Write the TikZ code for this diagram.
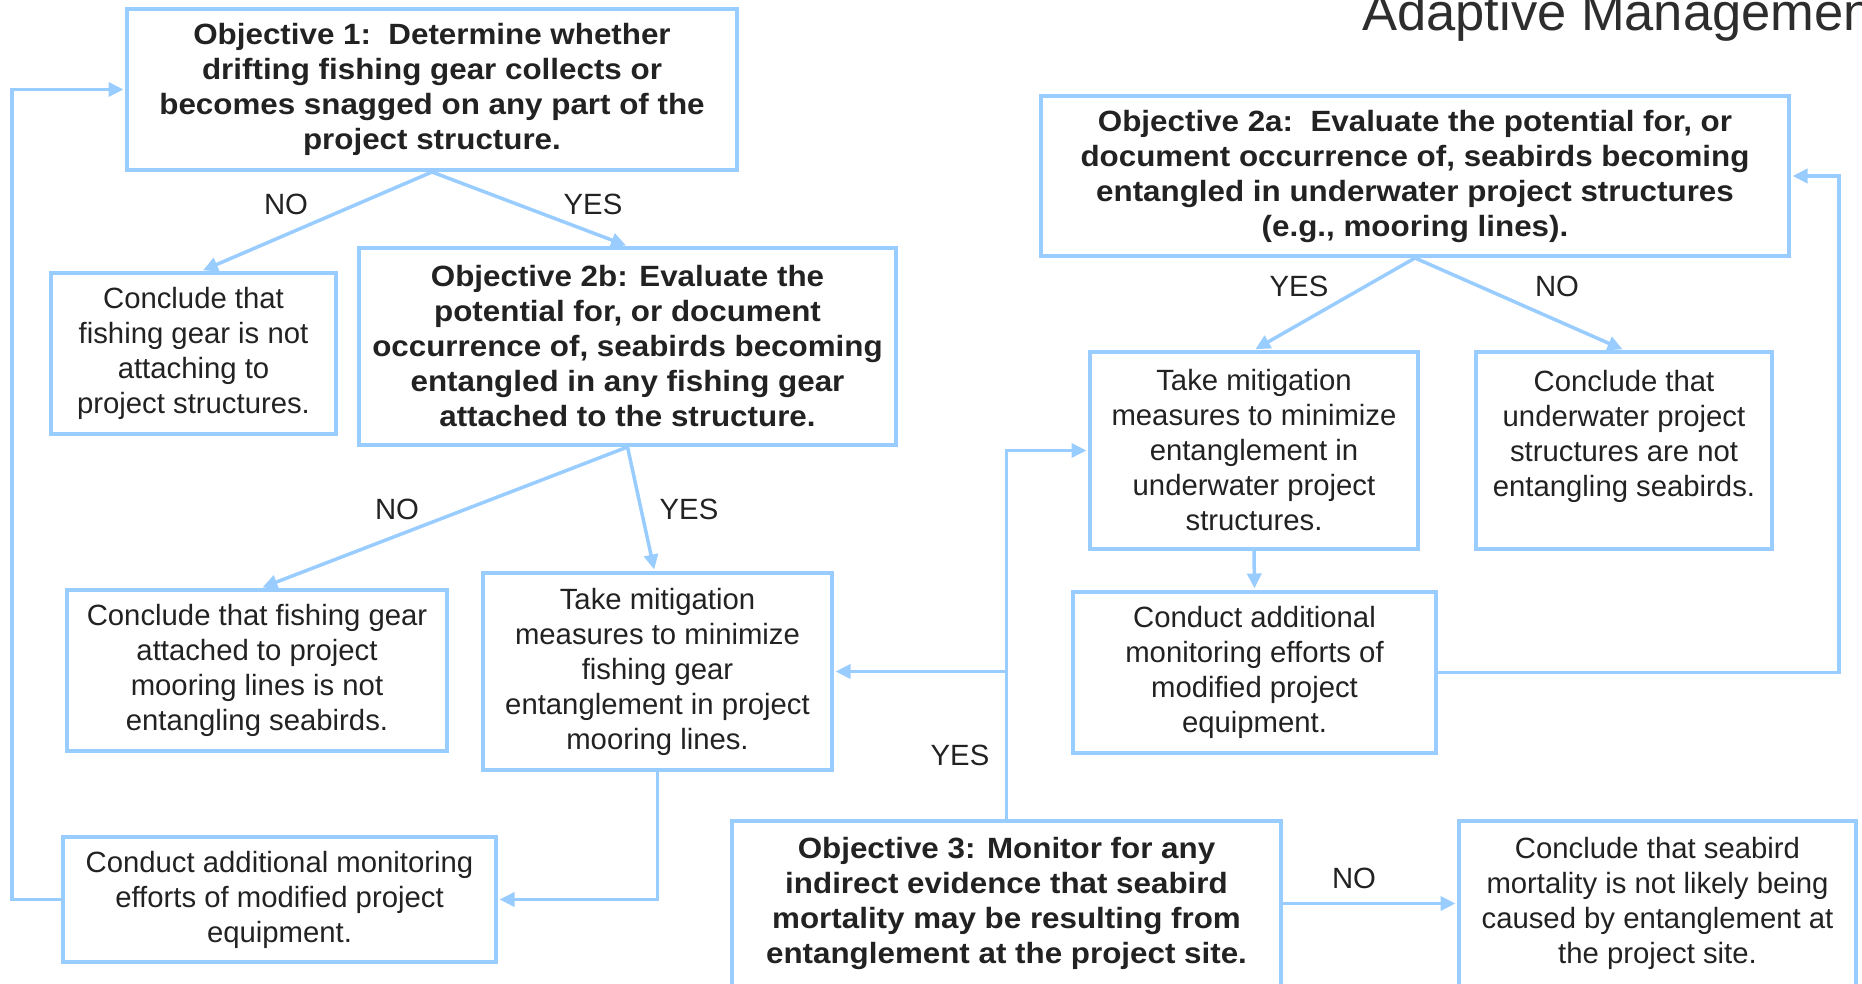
\documentclass[tikz,border=0pt]{standalone}
\usepackage{fontspec}
\setmainfont{Liberation Sans}[BoldFeatures={FakeStretch=1.07}]
\usetikzlibrary{arrows.meta,calc}
\definecolor{flowblue}{RGB}{153,204,255}
\definecolor{ink}{RGB}{34,34,34}
\begin{document}
\begin{tikzpicture}[x=1pt,y=-1pt,
  box/.style={draw=flowblue, line width=4pt, fill=white, inner sep=0pt,
    align=center, text=ink, font=\fontsize{29.3}{35}\selectfont},
  boldbox/.style={box, font=\fontsize{29.3}{35}\selectfont\bfseries},
  conn/.style={draw=flowblue, line width=3.5pt},
  arr/.style={conn, -{Triangle[length=15pt,width=14pt]}, shorten >=1.5pt},
  lbl/.style={text=ink, font=\fontsize{29.3}{35}\selectfont, inner sep=0pt}]
\useasboundingbox (0,0) rectangle (1862,984);

% heading, running off the page edge
\node[anchor=base west, inner sep=0pt, text=ink!95,
  font=\fontsize{52.5}{63}\selectfont] (title) at (1362,31) {Adaptive Management};

% left branch: drifting gear
\node[boldbox, minimum width=610pt, minimum height=161pt] (obj1) at (432,89.5)
  {Objective 1:\ \ Determine whether\\drifting fishing gear collects or\\becomes snagged on any part of the\\project structure.};
\node[box, minimum width=285pt, minimum height=161pt] (concl1) at (193.5,353.5)
  {Conclude that\\fishing gear is not\\attaching to\\project structures.};
\node[boldbox, minimum width=537pt, minimum height=197pt] (obj2b) at (627.5,346.5)
  {Objective 2b: Evaluate the\\potential for, or document\\occurrence of, seabirds becoming\\entangled in any fishing gear\\attached to the structure.};
\node[box, minimum width=380pt, minimum height=161pt] (concl2) at (257,670.5)
  {Conclude that fishing gear\\attached to project\\mooring lines is not\\entangling seabirds.};
\node[box, minimum width=349pt, minimum height=197pt] (mitig1) at (657.5,671.5)
  {Take mitigation\\measures to minimize\\fishing gear\\entanglement in project\\mooring lines.};
\node[box, minimum width=433pt, minimum height=125pt] (conduct1) at (279.5,899.5)
  {Conduct additional monitoring\\efforts of modified project\\equipment.};

% right branch: underwater structures
\node[boldbox, minimum width=748pt, minimum height=160pt] (obj2a) at (1415,176)
  {Objective 2a:\ \ Evaluate the potential for, or\\document occurrence of, seabirds becoming\\entangled in underwater project structures\\(e.g., mooring lines).};
\node[box, minimum width=328pt, minimum height=197pt] (mitig2) at (1254,450.5)
  {Take mitigation\\measures to minimize\\entanglement in\\underwater project\\structures.};
\node[box, minimum width=296pt, minimum height=197pt] (concl4) at (1624,450.5)
  {Conclude that\\underwater project\\structures are not\\entangling seabirds.\\~};
\node[box, minimum width=363pt, minimum height=161pt] (conduct2) at (1254.5,672.5)
  {Conduct additional\\monitoring efforts of\\modified project\\equipment.};

% bottom row: indirect evidence
\node[boldbox, minimum width=549pt, minimum height=165pt] (obj3) at (1006.5,903.5)
  {Objective 3: Monitor for any\\indirect evidence that seabird\\mortality may be resulting from\\entanglement at the project site.};
\node[box, minimum width=397pt, minimum height=165pt] (concl3) at (1657.5,903.5)
  {Conclude that seabird\\mortality is not likely being\\caused by entanglement at\\the project site.};

% decision arrows
\draw[arr] (obj1.south) -- ($(concl1.north)+(8,0)$);
\draw[arr] (obj1.south) -- (obj2b.north);
\draw[arr] (obj2b.south) -- ($(concl2.north)+(4,0)$);
\draw[arr] (obj2b.south) -- ($(mitig1.north)+(-3,0)$);
\draw[arr] (obj2a.south) -- (mitig2.north);
\draw[arr] (obj2a.south) -- (concl4.north);
\draw[arr] (mitig2.south) -- (conduct2.north);
\draw[arr] (obj3.east) -- (concl3.west);

% feedback loops
\coordinate (loopL) at (12,0);
\coordinate (loopR) at (1839,0);
\draw[arr] (mitig1.south) |- (conduct1.east);
\draw[arr] (conduct1.west) -| (loopL |- obj1.west) -- (obj1.west);
\draw[arr] (conduct2.east) -| (loopR |- obj2a.east) -- (obj2a.east);
\draw[arr] (obj3.north) |- (mitig2.west);
\coordinate (split) at (obj3.north |- mitig1.east);
\draw[arr] (split) -- (mitig1.east);

% branch labels
\node[lbl] (no1)  at (286,204) {NO};
\node[lbl] (yes1) at (593,204) {YES};
\node[lbl] (no2)  at (397,509) {NO};
\node[lbl] (yes2) at (689,509) {YES};
\node[lbl] (yes3) at (1299,286) {YES};
\node[lbl] (no3)  at (1557,286) {NO};
\node[lbl] (yes4) at (960,755) {YES};
\node[lbl] (no4)  at (1354,878) {NO};
\end{tikzpicture}
\end{document}
